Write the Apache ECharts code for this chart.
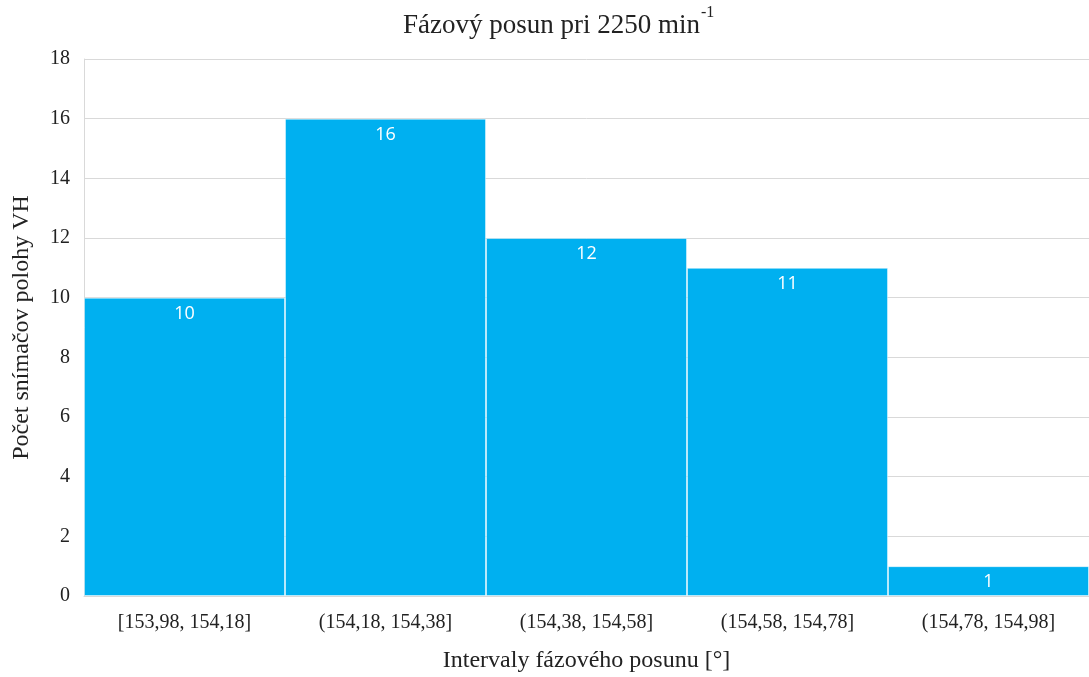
<!DOCTYPE html>
<html>
<head>
<meta charset="utf-8">
<script src="https://cdn.jsdelivr.net/npm/echarts@6/dist/echarts.min.js"></script>
<style>html,body{margin:0;padding:0;background:#fff}#c{width:1089px;height:677px}</style>
</head>
<body>
<div id="c"></div>
<script>
var categories = ['[153,98, 154,18]', '(154,18, 154,38]', '(154,38, 154,58]', '(154,58, 154,78]', '(154,78, 154,98]'];
var counts = [10, 16, 12, 11, 1];
var yTicks = { min: 0, max: 18, interval: 2 };

var serif = '"Liberation Serif", "Times New Roman", serif';
var chart = echarts.init(document.getElementById('c'));
chart.setOption({
  animation: false,
  backgroundColor: '#fff',
  title: {
    text: '{a|Fázový posun pri 2250 min}{b|-1}',
    left: 398,
    top: 0,
    textStyle: {
      fontWeight: 'normal',
      rich: {
        a: { fontFamily: serif, fontSize: 27, fontWeight: 'normal', color: '#222', lineHeight: 34, verticalAlign: 'bottom' },
        b: { fontFamily: serif, fontSize: 16, fontWeight: 'normal', color: '#222', lineHeight: 34, verticalAlign: 'top', padding: [0, 0, 10, 1] }
      }
    }
  },
  grid: { left: 84, right: 0, top: 59, bottom: 81, containLabel: false, outerBoundsMode: 'none' },
  xAxis: {
    type: 'category',
    data: categories,
    name: 'Intervaly fázového posunu [°]',
    nameLocation: 'middle',
    nameGap: 53,
    nameTextStyle: { fontFamily: serif, fontSize: 24, color: '#222' },
    axisLine: { show: true, lineStyle: { color: '#d9d9d9', width: 1 } },
    axisTick: { show: false },
    axisLabel: { fontFamily: serif, fontSize: 20, color: '#222', margin: 17 }
  },
  yAxis: {
    type: 'value',
    min: yTicks.min, max: yTicks.max, interval: yTicks.interval,
    name: 'Počet snímačov polohy VH',
    nameLocation: 'middle',
    nameGap: 50,
    nameTextStyle: { fontFamily: serif, fontSize: 24, color: '#222' },
    axisLine: { show: true, lineStyle: { color: '#d9d9d9', width: 1 } },
    axisTick: { show: false },
    axisLabel: { fontFamily: serif, fontSize: 20, color: '#222', margin: 14 },
    splitLine: { show: true, lineStyle: { color: '#d9d9d9', width: 1 } }
  },
  series: [{
    type: 'bar',
    data: counts,
    barCategoryGap: 0,
    itemStyle: { color: '#00b0f0', borderColor: 'rgba(255,255,255,0.45)', borderWidth: 1 },
    label: {
      show: true,
      position: 'insideTop',
      distance: 7,
      color: '#fff',
      fontFamily: '"Open Sans", "Noto Sans", sans-serif',
      fontSize: 18
    }
  }]
});
</script>
</body>
</html>
